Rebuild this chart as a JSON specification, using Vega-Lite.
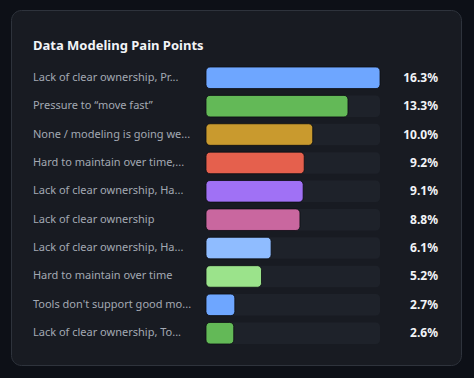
{
  "$schema": "https://vega.github.io/schema/vega-lite/v6.json",
  "width": 450,
  "height": 355,
  "autosize": {"type": "none"},
  "padding": {"left": 11, "top": 10, "right": 13, "bottom": 13},
  "background": "#0d1017",
  "config": {
    "view": {"fill": "#181b22", "stroke": "#2e333c", "strokeWidth": 1, "cornerRadius": 10},
    "font": "Noto Sans"
  },
  "title": {
    "text": "Data Modeling Pain Points",
    "anchor": "start",
    "frame": "group",
    "orient": "top",
    "baseline": "alphabetic",
    "offset": -53,
    "dx": 22,
    "fontSize": 13,
    "fontWeight": "bold",
    "color": "#f2f4f7",
    "font": "Noto Sans"
  },
  "data": {
    "values": [
      {"rank": 1, "label": "Lack of clear ownership, Pr...", "pct": 16.3},
      {"rank": 2, "label": "Pressure to “move fast”", "pct": 13.3},
      {"rank": 3, "label": "None / modeling is going we...", "pct": 10.0},
      {"rank": 4, "label": "Hard to maintain over time,...", "pct": 9.2},
      {"rank": 5, "label": "Lack of clear ownership, Ha...", "pct": 9.1},
      {"rank": 6, "label": "Lack of clear ownership", "pct": 8.8},
      {"rank": 7, "label": "Lack of clear ownership, Ha...", "pct": 6.1},
      {"rank": 8, "label": "Hard to maintain over time", "pct": 5.2},
      {"rank": 9, "label": "Tools don't support good mo...", "pct": 2.7},
      {"rank": 10, "label": "Lack of clear ownership, To...", "pct": 2.6}
    ]
  },
  "transform": [
    {"joinaggregate": [{"op": "max", "field": "pct", "as": "maxPct"}]},
    {"calculate": "format(datum.pct, '.1f') + '%'", "as": "pctLabel"}
  ],
  "encoding": {
    "y": {
      "field": "rank",
      "type": "ordinal",
      "scale": {"range": [57, 334], "paddingInner": 0.24, "paddingOuter": 0},
      "axis": null
    }
  },
  "layer": [
    {
      "mark": {"type": "bar", "color": "#1e222a", "cornerRadius": 4},
      "encoding": {
        "x": {"field": "maxPct", "type": "quantitative", "scale": {"domain": [0, 16.3], "range": [195, 369], "clamp": false, "nice": false, "zero": false}, "axis": null},
        "x2": {"datum": 0}
      }
    },
    {
      "mark": {"type": "bar", "cornerRadius": 4, "stroke": "#0b0d12", "strokeWidth": 1, "strokeOpacity": 0.8},
      "encoding": {
        "x": {"field": "pct", "type": "quantitative"},
        "x2": {"datum": 0},
        "color": {
          "field": "rank",
          "type": "ordinal",
          "legend": null,
          "scale": {
            "domain": [1, 2, 3, 4, 5, 6, 7, 8, 9, 10],
            "range": ["#6ea6ff", "#63b957", "#c99a2e", "#e5604d", "#a071f5", "#c9679f", "#8fbcff", "#9be38b", "#6ea6ff", "#63b957"]
          }
        }
      }
    },
    {
      "mark": {"type": "text", "align": "left", "baseline": "middle", "fontSize": 11, "color": "#a3a9b3", "font": "Noto Sans"},
      "encoding": {
        "x": {"datum": -16.21, "type": "quantitative"},
        "text": {"field": "label", "type": "nominal"}
      }
    },
    {
      "mark": {"type": "text", "align": "right", "baseline": "middle", "fontSize": 12, "fontWeight": "bold", "color": "#f2f4f7", "font": "Noto Sans"},
      "encoding": {
        "x": {"datum": 21.73, "type": "quantitative"},
        "text": {"field": "pctLabel", "type": "nominal"}
      }
    }
  ]
}
